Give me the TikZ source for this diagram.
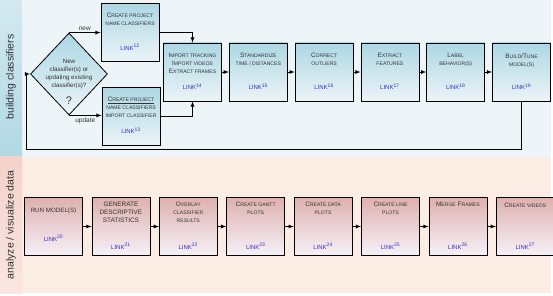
\documentclass[tikz,border=0pt]{standalone}
\usepackage{fontspec}
\setmainfont{Liberation Sans}
\usetikzlibrary{shapes.geometric,positioning}

\definecolor{bandblue}{RGB}{238,245,248}
\definecolor{bandpeach}{RGB}{252,237,228}
\definecolor{stripbluetop}{RGB}{212,233,240}
\definecolor{stripbluebot}{RGB}{176,216,228}
\definecolor{strippeachtop}{RGB}{244,210,202}
\definecolor{strippeachbot}{RGB}{249,230,224}
\definecolor{boxbluetop}{RGB}{172,215,227}
\definecolor{boxbluebot}{RGB}{236,244,248}
\definecolor{boxredtop}{RGB}{222,176,174}
\definecolor{boxredmid}{RGB}{228,192,192}
\definecolor{boxredbot}{RGB}{246,241,248}
\definecolor{textgray}{RGB}{50,50,50}
\definecolor{linkblue}{RGB}{48,48,200}

% small letters of the fake small caps
\newcommand\lc[1]{{\fontsize{5.1pt}{8pt}\selectfont #1}}
\newcommand\lnk[1]{LINK\textsuperscript{#1}}

\begin{document}
\begin{tikzpicture}[x=1pt, y=-1pt, >=latex, line width=0.8pt,
  bluebox/.style={draw, minimum width=58pt, minimum height=58pt, inner sep=0pt,
    top color=boxbluetop, bottom color=boxbluebot},
  redbox/.style={draw, minimum width=58pt, minimum height=58pt, inner sep=0pt,
    top color=boxredtop, middle color=boxredmid, bottom color=boxredbot},
  boxtext/.style={inner sep=0pt, align=center, text=textgray,
    font=\fontsize{6.4pt}{8pt}\selectfont},
  linktext/.style={inner sep=0pt, text=linkblue, font=\fontsize{6pt}{7pt}\selectfont},
  bandlabel/.style={rotate=90, text=textgray, font=\fontsize{10.5pt}{12pt}\selectfont},
  edgelabel/.style={inner sep=1.5pt, text=textgray, font=\fontsize{6.5pt}{8pt}\selectfont}]

\useasboundingbox (0,0) rectangle (553,296);

% the two bands
\fill[bandblue] (0,0) rectangle (551,157);
\fill[bandpeach] (0,157) rectangle (551,293);
\shade[top color=stripbluetop, bottom color=stripbluebot] (0,0) rectangle (22,157);
\shade[top color=strippeachtop, bottom color=strippeachbot] (0,157) rectangle (22,293);
\node[bandlabel] (buildlabel) at (11,77) {building classifiers};
\node[bandlabel] (analyzelabel) at (11,225) {analyze / visualize data};

% decision
\node[diamond, draw, aspect=0.94, minimum width=77pt, minimum height=82pt, inner sep=0pt,
  top color=boxbluetop, bottom color=boxbluebot] (dia) at (69,74) {};
\node[boxtext, font=\fontsize{6.2pt}{8pt}\selectfont] (dia-t) at (69,74)
  {New\\classifier(s) or\\updating existing\\classifier(s)?};
\node[boxtext, font=\fontsize{11pt}{12pt}\selectfont] (dia-q) at (69,101) {?};

% project boxes
\node[bluebox] (cp1) at (130,32.5) {};
\node[boxtext, below=9.5pt of cp1.north] (cp1-t) {C\lc{REATE PROJECT}\\\lc{NAME CLASSIFIERS}};
\node[linktext, above=11pt of cp1.south] (cp1-l) {\lnk{12}};

\node[bluebox] (cp2) at (131,116.5) {};
\node[boxtext, below=9.5pt of cp2.north] (cp2-t)
  {\underline{C\lc{REATE PROJECT}}\\\lc{NAME CLASSIFIERS}\\\lc{IMPORT CLASSIFIER}};
\node[linktext, above=11.5pt of cp2.south] (cp2-l) {\lnk{13}};

% building row
\node[bluebox] (imp) at (192.5,72) {};
\node[bluebox, right=7pt of imp] (std) {};
\node[bluebox, right=7pt of std] (cor) {};
\node[bluebox, right=7pt of cor] (ext) {};
\node[bluebox, right=7pt of ext] (lab) {};
\node[bluebox, right=7pt of lab] (bld) {};

\node[boxtext, below=10.5pt of imp.north] (imp-t)
  {I\lc{MPORT TRACKING}\\I\lc{MPORT VIDEOS}\\E\lc{XTRACT FRAMES}};
\node[boxtext, below=10.5pt of std.north] (std-t) {S\lc{TANDARDIZE}\\\lc{TIME / DISTANCES}};
\node[boxtext, below=10.5pt of cor.north] (cor-t) {C\lc{ORRECT}\\\lc{OUTLIERS}};
\node[boxtext, below=10.5pt of ext.north] (ext-t) {E\lc{XTRACT}\\\lc{FEATURES}};
\node[boxtext, below=10.5pt of lab.north] (lab-t) {L\lc{ABEL}\\\lc{BEHAVIOR(S)}};
\node[boxtext, below=10.5pt of bld.north] (bld-t) {B\lc{UILD}/T\lc{UNE}\\\lc{MODEL(S)}};

\node[linktext, above=11pt of imp.south] (imp-l) {\lnk{14}};
\node[linktext, above=11pt of std.south] (std-l) {\lnk{15}};
\node[linktext, above=11pt of cor.south] (cor-l) {\lnk{16}};
\node[linktext, above=11pt of ext.south] (ext-l) {\lnk{17}};
\node[linktext, above=11pt of lab.south] (lab-l) {\lnk{18}};
\node[linktext, above=11pt of bld.south] (bld-l) {\lnk{19}};

\draw[->] (dia.north) -- node[above, edgelabel] (newlbl) {new} (dia.north -| cp1.west);
\draw[->] (dia.south) -- node[below, edgelabel] (updlbl) {update} (dia.south -| cp2.west);
\draw[->] (cp1.east) -| (imp.north);
\draw[->] (cp2.east) -| (imp.south);
\draw[->] (imp) -- (std);
\draw[->] (std) -- (cor);
\draw[->] (cor) -- (ext);
\draw[->] (ext) -- (lab);
\draw[->] (lab) -- (bld);
\coordinate (loop) at (26,149);
\draw[->] (bld.south) |- (loop) |- (dia.west);

% analysis row
\node[redbox] (run) at (53.5,226.5) {};
\node[redbox, right=8.6pt of run] (gen) {};
\node[redbox, right=8.6pt of gen] (ovl) {};
\node[redbox, right=8.6pt of ovl] (gnt) {};
\node[redbox, right=8.6pt of gnt] (dat) {};
\node[redbox, right=8.6pt of dat] (lin) {};
\node[redbox, right=8.6pt of lin] (mrg) {};
\node[redbox, right=8.6pt of mrg] (vid) {};

\node[boxtext, below=10.5pt of run.north, font=\fontsize{6.2pt}{8pt}\selectfont] (run-t) {RUN MODEL(S)};
\node[boxtext, below=4.5pt of gen.north, font=\fontsize{6.4pt}{8pt}\selectfont] (gen-t)
  {GENERATE\\DESCRIPTIVE\\STATISTICS};
\node[boxtext, below=4.5pt of ovl.north] (ovl-t) {O\lc{VERLAY}\\\lc{CLASSIFIER}\\\lc{RESULTS}};
\node[boxtext, below=4.5pt of gnt.north] (gnt-t) {C\lc{REATE GANTT}\\\lc{PLOTS}};
\node[boxtext, below=4.5pt of dat.north] (dat-t) {C\lc{REATE DATA}\\\lc{PLOTS}};
\node[boxtext, below=4.5pt of lin.north] (lin-t) {C\lc{REATE LINE}\\\lc{PLOTS}};
\node[boxtext, below=4.5pt of mrg.north] (mrg-t) {M\lc{ERGE} F\lc{RAMES}};
\node[boxtext, below=5.5pt of vid.north] (vid-t) {C\lc{REATE VIDEOS}};

\node[linktext, above=14pt of run.south] (run-l) {\lnk{20}};
\node[linktext, above=6pt of gen.south] (gen-l) {\lnk{21}};
\node[linktext, above=6pt of ovl.south] (ovl-l) {\lnk{22}};
\node[linktext, above=6pt of gnt.south] (gnt-l) {\lnk{23}};
\node[linktext, above=6pt of dat.south] (dat-l) {\lnk{24}};
\node[linktext, above=6pt of lin.south] (lin-l) {\lnk{25}};
\node[linktext, above=6pt of mrg.south] (mrg-l) {\lnk{26}};
\node[linktext, above=6pt of vid.south] (vid-l) {\lnk{27}};

\draw[->] (run) -- (gen);
\draw[->] (gen) -- (ovl);
\draw[->] (ovl) -- (gnt);
\draw[->] (gnt) -- (dat);
\draw[->] (dat) -- (lin);
\draw[->] (lin) -- (mrg);
\draw[->] (mrg) -- (vid);
\end{tikzpicture}
\end{document}
